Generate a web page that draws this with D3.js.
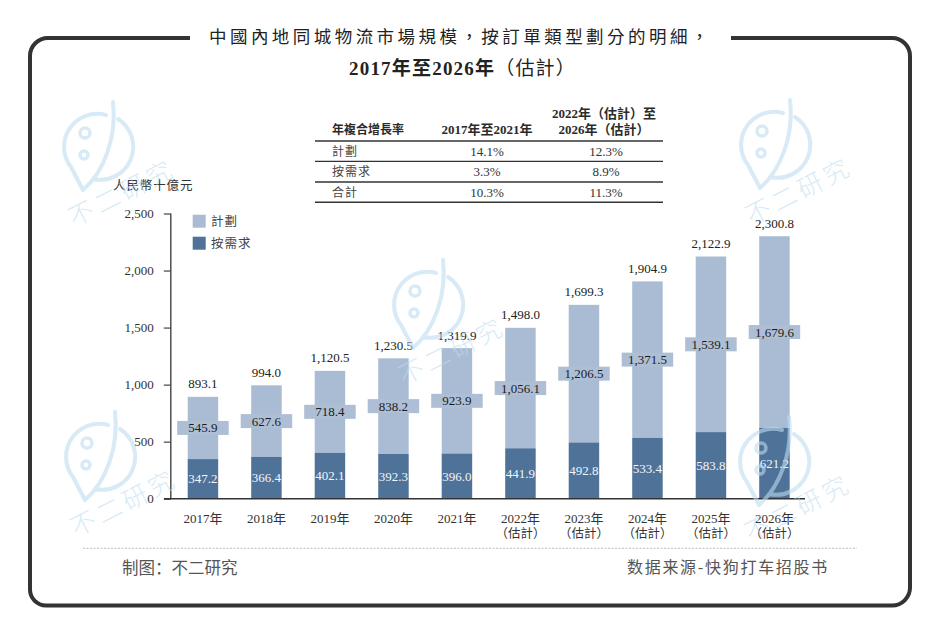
<!DOCTYPE html>
<html><head><meta charset="utf-8">
<script src="https://cdn.jsdelivr.net/npm/d3@7/dist/d3.min.js"></script>
<style>html,body{margin:0;padding:0;background:#fff}svg{display:block}
text{font-family:"Liberation Serif","Noto Sans CJK TC",serif}</style></head>
<body><svg id="c" width="940" height="644"></svg>
<script>
const years=["2017年","2018年","2019年","2020年","2021年","2022年","2023年","2024年","2025年","2026年"];
const estimated=[false,false,false,false,false,true,true,true,true,true];
const plan=[545.9,627.6,718.4,838.2,923.9,1056.1,1206.5,1371.5,1539.1,1679.6];
const demand=[347.2,366.4,402.1,392.3,396.0,441.9,492.8,533.4,583.8,621.2];
const totals=[893.1,994.0,1120.5,1230.5,1319.9,1498.0,1699.3,1904.9,2122.9,2300.8];
const yTicks=[0,500,1000,1500,2000,2500];
const seriesNames=["計劃","按需求"];
const tableHead=["年複合增長率","2017年至2021年",["2022年（估計）至","2026年（估計）"]];
const tableRows=[["計劃","14.1%","12.3%"],["按需求","3.3%","8.9%"],["合計","10.3%","11.3%"]];
const titleLines=["中國內地同城物流市場規模，按訂單類型劃分的明細，","2017年至2026年","（估計）"];
const unitLabel="人民幣十億元";
const footLeft="制图：不二研究", footRight="数据来源-快狗打车招股书";
const watermarkSpots=[[98,147],[775,145],[428,305],[100,457],[774,462]];

const LIGHT="#a9bcd3",DARK="#4f7299",INK="#2b2b2b";
const svg=d3.select("#c");
svg.append("rect").attr("width",940).attr("height",644).attr("fill","#fff");

// frame, open at the top for the title
svg.append("path").attr("fill","none").attr("stroke","#333").attr("stroke-width",4)
 .attr("d","M190,38 H48 A18,18 0 0 0 30,56 V589 A16,16 0 0 0 46,605.5 H892 A18,18 0 0 0 910,587 V56 A18,18 0 0 0 892,38 H731");

// title
svg.append("text").attr("x",209).attr("y",43)
 .attr("font-size",17.5).attr("letter-spacing",3.45).attr("fill","#222")
 .style("font-family",'"Noto Sans CJK TC",sans-serif').text(titleLines[0]);
const t2=svg.append("text").attr("x",349).attr("y",75).attr("font-size",19).attr("letter-spacing",1.2).attr("fill","#222");
t2.append("tspan").attr("font-weight",700).text(titleLines[1]);
t2.append("tspan").attr("font-weight",400).text(titleLines[2]);

// table
const tbl=svg.append("g");
const colX=[332,487,604];
[141,161.4,182,202.3].forEach(y=>tbl.append("line").attr("x1",315).attr("x2",663).attr("y1",y).attr("y2",y)
  .attr("stroke","#333").attr("stroke-width",1.4));
tbl.append("text").attr("x",colX[0]).attr("y",134).attr("font-size",12).attr("font-weight",700).attr("fill",INK).text(tableHead[0]);
tbl.append("text").attr("x",colX[1]).attr("y",134).attr("text-anchor","middle").attr("font-size",13).attr("font-weight",700).attr("fill",INK).text(tableHead[1]);
tableHead[2].forEach((t,i)=>tbl.append("text").attr("x",colX[2]).attr("y",118+i*16).attr("text-anchor","middle")
  .attr("font-size",13).attr("font-weight",700).attr("fill",INK).text(t));
tableRows.forEach((r,i)=>{
  const y=155.5+i*20.5;
  tbl.append("text").attr("x",colX[0]).attr("y",y).attr("font-size",12).attr("letter-spacing",1).attr("fill","#444").text(r[0]);
  tbl.append("text").attr("x",colX[1]).attr("y",y).attr("text-anchor","middle").attr("font-size",13).attr("fill","#333").text(r[1]);
  tbl.append("text").attr("x",colX[2]+2).attr("y",y).attr("text-anchor","middle").attr("font-size",13).attr("fill","#333").text(r[2]);
});

// scales
const x=d3.scaleBand().domain(years).range([171.2,806.2]).paddingInner(0.52).paddingOuter(0.26);
const y=d3.scaleLinear().domain([0,2500]).range([498.7,213.5]);
const fmt=d3.format(",.1f");

// bars
const g=svg.append("g");
g.selectAll(".p").data(years).join("rect").attr("x",d=>x(d)).attr("width",x.bandwidth())
 .attr("y",(d,i)=>y(demand[i]+plan[i])).attr("height",(d,i)=>y(demand[i])-y(demand[i]+plan[i])).attr("fill",LIGHT);
g.selectAll(".d").data(years).join("rect").attr("x",d=>x(d)).attr("width",x.bandwidth())
 .attr("y",(d,i)=>y(demand[i])).attr("height",(d,i)=>y(0)-y(demand[i])).attr("fill",DARK);

// plan label plates
const BW=51.5,BH=14;
const planMid=i=>y(demand[i]+plan[i]/2);
g.selectAll(".b").data(years).join("rect").attr("x",d=>x(d)+x.bandwidth()/2-BW/2).attr("width",BW)
 .attr("y",(d,i)=>planMid(i)-BH/2).attr("height",BH).attr("fill","#aebfd5");
g.selectAll(".pl").data(years).join("text").attr("x",d=>x(d)+x.bandwidth()/2)
 .attr("y",(d,i)=>planMid(i)+4.5).attr("text-anchor","middle").attr("font-size",13).attr("fill","#1c1c1c")
 .text((d,i)=>fmt(plan[i]));
g.selectAll(".dl").data(years).join("text").attr("x",d=>x(d)+x.bandwidth()/2)
 .attr("y",(d,i)=>y(demand[i]/2)+4.5).attr("text-anchor","middle").attr("font-size",13).attr("fill","#f2f6fb")
 .text((d,i)=>fmt(demand[i]));
g.selectAll(".tl").data(years).join("text").attr("x",d=>x(d)+x.bandwidth()/2)
 .attr("y",(d,i)=>y(totals[i])-8.5).attr("text-anchor","middle").attr("font-size",13).attr("fill","#222")
 .text((d,i)=>fmt(totals[i]));

// axes
const ya=svg.append("g").attr("transform","translate(170.8,0)")
 .call(d3.axisLeft(y).tickValues(yTicks).tickSize(7).tickPadding(10).tickFormat(d3.format(",")));
ya.selectAll("path").attr("d","M0,213.5V498.7").attr("stroke","#444").attr("stroke-width",1.4);
ya.selectAll("line").attr("stroke","#444").attr("stroke-width",1.2);
ya.selectAll("text").attr("font-size",13).attr("fill","#333").style("font-family",'"Liberation Serif",serif');

const xa=svg.append("g").attr("transform","translate(0,498.7)")
 .call(d3.axisBottom(x).tickSize(0).tickPadding(0));
xa.selectAll("path").attr("d","M164,0H805").attr("stroke","#333").attr("stroke-width",1.4);
xa.selectAll(".tick text").each(function(d,i){
  const t=d3.select(this).text(null).attr("dy",null).attr("y",null).attr("font-size",13).attr("fill","#333")
    .style("font-family",'"Liberation Serif","Noto Sans CJK TC",serif');
  t.append("tspan").attr("x",0).attr("y",24).text(d);
  if(estimated[i]) t.append("tspan").attr("x",0).attr("y",39.5).attr("font-size",12.5).text("（估計）");
});

// unit + legend
svg.append("text").attr("x",113).attr("y",190).attr("font-size",12.5).attr("letter-spacing",.9).attr("fill","#333").text(unitLabel);
seriesNames.forEach((n,i)=>{
  const yy=214.7+i*22;
  svg.append("rect").attr("x",192.7).attr("y",yy).attr("width",13).attr("height",13).attr("fill",i?DARK:LIGHT);
  svg.append("text").attr("x",211).attr("y",yy+11).attr("font-size",12.5).attr("letter-spacing",1).attr("fill","#444").text(n);
});

// footer
svg.append("line").attr("x1",83).attr("x2",857).attr("y1",548.3).attr("y2",548.3)
 .attr("stroke","#bbb").attr("stroke-width",1).attr("stroke-dasharray","2 1.5");
svg.append("text").attr("x",122).attr("y",574).attr("font-size",16.5).attr("fill","#555")
 .style("font-family",'"Noto Sans CJK SC",sans-serif').text(footLeft);
svg.append("text").attr("x",627).attr("y",573).attr("font-size",16).attr("letter-spacing",1.7).attr("fill","#555")
 .style("font-family",'"Noto Sans CJK SC",sans-serif').text(footRight);

// watermarks
const wm=svg.append("g").attr("fill","none").attr("stroke","#bcdcf0").attr("stroke-opacity",.6);
watermarkSpots.forEach(([cx,cy])=>{
  const w=wm.append("g").attr("transform",`translate(${cx},${cy})`);
  w.append("path").attr("stroke-width",4).attr("stroke-linecap","round").attr("stroke-linejoin","round")
   .attr("d","M15,-45 C19,-10 6,25 -15,43 M8,-32 A33,33 0 0 0 -27,20 L-15,43 M20,-28 A33,33 0 0 1 -5,32");
  w.append("circle").attr("cx",-13).attr("cy",-14).attr("r",5).attr("stroke-width",3.5);
  w.append("circle").attr("cx",-14).attr("cy",8).attr("r",4).attr("stroke-width",3.5);
  w.append("text").attr("transform","translate(28,54) rotate(-27)").attr("text-anchor","middle").attr("font-size",25)
   .attr("letter-spacing",4).attr("fill","#bcdcf0").attr("fill-opacity",.6).attr("stroke","none")
   .style("font-family",'"Noto Sans CJK SC",sans-serif').style("font-weight",300).text("不二研究");
});
</script></body></html>
